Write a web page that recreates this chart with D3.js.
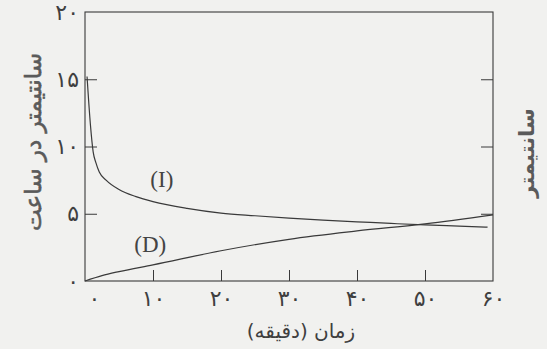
<!DOCTYPE html>
<html>
<head>
<meta charset="utf-8">
<script src="https://cdn.jsdelivr.net/npm/d3@7"></script>
<style>
  body { margin: 0; background: #f1f1ef; }
  svg { display: block; }
</style>
</head>
<body>
<div id="chart"></div>
<script>
// infiltration rate (I), cm/hr
const iTime = [0.3, 0.8, 1.2, 1.6, 2.1, 3.1, 5, 7.5, 10, 15, 20, 25, 30, 35, 40, 45, 50, 55, 59.2];
const iRate = [15.2, 11.6, 9.6, 8.8, 8.1, 7.5, 6.8, 6.27, 5.9, 5.4, 5.05, 4.85, 4.67, 4.52, 4.4, 4.28, 4.17, 4.08, 4.0];
// cumulative depth (D), cm
const dTime = [0, 2.5, 5, 10, 20, 30, 40, 50, 60];
const dDepth = [0, 0.4, 0.7, 1.2, 2.25, 3.1, 3.72, 4.25, 4.92];

const xTicks = [0, 10, 20, 30, 40, 50, 60];
const xTickLabels = ["۰", "۱۰", "۲۰", "۳۰", "۴۰", "۵۰", "۶۰"];
const yTicks = [0, 5, 10, 15, 20];
const yTickLabels = ["۰", "۵", "۱۰", "۱۵", "۲۰"];

const W = 547, H = 349;
const margin = {top: 12, right: 54, bottom: 68, left: 85};
const width = W - margin.left - margin.right;
const height = H - margin.top - margin.bottom;

const svg = d3.select("#chart").append("svg")
    .attr("width", W)
    .attr("height", H);

svg.append("rect")
    .attr("width", W).attr("height", H)
    .attr("fill", "#f1f1ef");

const g = svg.append("g")
    .attr("transform", `translate(${margin.left},${margin.top})`);

const x = d3.scaleLinear().domain([0, 60]).range([0, width]);
const y = d3.scaleLinear().domain([0, 20]).range([height, 0]);

const ink = "#3a3a3a";

// frame
g.append("rect")
    .attr("width", width).attr("height", height)
    .attr("fill", "none")
    .attr("stroke", ink)
    .attr("stroke-width", 1.1);

// left axis, ticks pointing inward
const yAxis = g.append("g")
    .call(d3.axisLeft(y).tickValues(yTicks).tickSize(-12).tickPadding(6)
        .tickFormat((d, i) => yTickLabels[i]));
yAxis.select(".domain").remove();
yAxis.selectAll(".tick line").attr("stroke", ink);
yAxis.selectAll(".tick text")
    .attr("font-family", "DejaVu Sans")
    .attr("font-size", 22)
    .attr("fill", "#3f3f3f");
// no tick marks at the corners
yAxis.selectAll(".tick").filter(d => d === 0 || d === 20).select("line").remove();

// right axis, ticks inward, no labels
const yAxisR = g.append("g")
    .attr("transform", `translate(${width},0)`)
    .call(d3.axisRight(y).tickValues([5, 10, 15]).tickSize(-12).tickFormat(""));
yAxisR.select(".domain").remove();
yAxisR.selectAll(".tick line").attr("stroke", ink);

// bottom axis
const xAxis = g.append("g")
    .attr("transform", `translate(0,${height})`)
    .call(d3.axisBottom(x).tickValues(xTicks).tickSize(-11).tickPadding(9)
        .tickFormat((d, i) => xTickLabels[i]));
xAxis.select(".domain").remove();
xAxis.selectAll(".tick line").attr("stroke", ink);
xAxis.selectAll(".tick").filter(d => d === 0 || d === 60).select("line").remove();
xAxis.selectAll(".tick text")
    .attr("font-family", "DejaVu Sans")
    .attr("font-size", 22)
    .attr("fill", "#3f3f3f")
    .attr("dx", d => d === 0 ? 9 : 0);

// curves
const lineI = d3.line()
    .x((d, i) => x(iTime[i]))
    .y((d, i) => y(iRate[i]))
    .curve(d3.curveMonotoneX);
const lineD = d3.line()
    .x((d, i) => x(dTime[i]))
    .y((d, i) => y(dDepth[i]))
    .curve(d3.curveMonotoneX);

g.append("path")
    .datum(iRate)
    .attr("d", lineI)
    .attr("fill", "none")
    .attr("stroke", ink)
    .attr("stroke-width", 1.2);

g.append("path")
    .datum(dDepth)
    .attr("d", lineD)
    .attr("fill", "none")
    .attr("stroke", ink)
    .attr("stroke-width", 1.2);

// curve labels
g.append("text")
    .attr("x", x(11.3)).attr("y", y(7))
    .attr("text-anchor", "middle")
    .attr("font-family", "Liberation Serif")
    .attr("font-size", 23)
    .attr("fill", "#444")
    .text("(I)");
g.append("text")
    .attr("x", x(9.6)).attr("y", y(2.15))
    .attr("text-anchor", "middle")
    .attr("font-family", "Liberation Serif")
    .attr("font-size", 23)
    .attr("fill", "#444")
    .text("(D)");

// axis titles
svg.append("text")
    .attr("transform", `translate(41,142) rotate(-90)`)
    .attr("text-anchor", "middle")
    .attr("font-family", "DejaVu Sans")
    .attr("font-size", 23)
    .attr("fill", "#5a5a5a")
    .attr("stroke", "#5a5a5a")
    .attr("stroke-width", 0.6)
    .text("سانتیمتر در ساعت");

svg.append("text")
    .attr("transform", `translate(534,153) rotate(-90)`)
    .attr("text-anchor", "middle")
    .attr("font-family", "DejaVu Sans")
    .attr("font-weight", "bold")
    .attr("font-size", 21)
    .attr("fill", "#5a5a5a")
    .text("سانتیمتر");

svg.append("text")
    .attr("x", 301).attr("y", 338)
    .attr("text-anchor", "middle")
    .attr("font-family", "DejaVu Sans")
    .attr("font-size", 20)
    .attr("fill", "#3f3f3f")
    .text("زمان (دقیقه)");
</script>
</body>
</html>
